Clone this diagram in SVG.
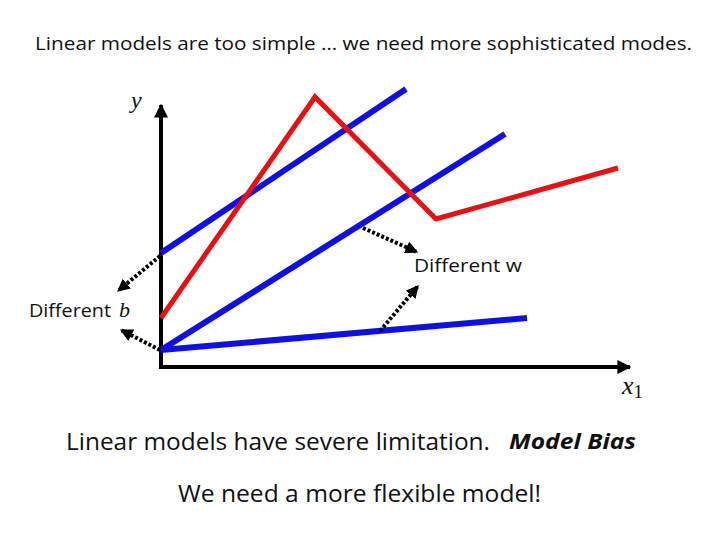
<svg xmlns="http://www.w3.org/2000/svg" width="720" height="540" viewBox="0 0 720 540">
<style>
.t{font-family:"Open Sans","Liberation Sans",sans-serif;fill:#111}
.m{font-family:"Liberation Serif",serif;font-style:italic;fill:#111}
.blue{stroke:#1010e0;stroke-width:6;fill:none;stroke-linecap:butt}
.red{stroke:#e81010;stroke-width:5;fill:none;stroke-linejoin:miter}
.axis{stroke:#000;stroke-width:4;fill:none}
.dot{stroke:#000;stroke-width:4;stroke-dasharray:3 2;fill:none}
</style>
<defs>
<marker id="ah" viewBox="0 0 10 10" refX="9" refY="5" markerWidth="3.2" markerHeight="3.2" orient="auto" markerUnits="strokeWidth"><path d="M0,0 L10,5 L0,10 Z" fill="#000"/></marker>
<marker id="ax" viewBox="0 0 10 10" refX="9" refY="5" markerWidth="3.5" markerHeight="3.5" orient="auto" markerUnits="strokeWidth"><path d="M0,0 L10,5 L0,10 Z" fill="#000"/></marker>
</defs>
<rect width="720" height="540" fill="#fff"/>
<text class="t" x="35" y="50" font-size="18.5" textLength="657" lengthAdjust="spacingAndGlyphs">Linear models are too simple … we need more sophisticated modes.</text>
<g id="axes">
<path class="axis" d="M161,367 V105" marker-end="url(#ax)"/>
<path class="axis" d="M159,367 H630" marker-end="url(#ax)"/>
<text class="m" x="131" y="108" font-size="24">y</text>
<text class="m" x="622" y="394" font-size="26">x<tspan font-size="19" font-style="normal" dy="4">1</tspan></text>
</g>
<g id="lines">
<path class="blue" d="M161,253 L406,89"/>
<path class="blue" d="M161,350 L505,134"/>
<path class="blue" d="M161,350 L527,318"/>
<path class="red" d="M161,318 L315,97 L436,219 L618,168"/>
</g>
<g id="connectors">
<path class="dot" d="M160,256 L118,291" marker-end="url(#ah)"/>
<path class="dot" d="M160,350 L121,330" marker-end="url(#ah)"/>
<path class="dot" d="M363,228 L417,252" marker-end="url(#ah)"/>
<path class="dot" d="M380,331 L418,286" marker-end="url(#ah)"/>
</g>
<g id="label-w"><text class="t" x="414" y="272" font-size="18.5" textLength="108" lengthAdjust="spacingAndGlyphs">Different w</text></g>
<g id="label-b"><text class="t" x="29" y="317" font-size="18.5" textLength="82" lengthAdjust="spacingAndGlyphs">Different</text><text class="m" x="119" y="317" font-size="22">b</text></g>
<text class="t" x="66" y="450" font-size="23" textLength="424" lengthAdjust="spacingAndGlyphs">Linear models have severe limitation.</text>
<text class="t" x="509" y="449" font-size="22" font-weight="bold" font-style="italic" textLength="127" lengthAdjust="spacingAndGlyphs">Model Bias</text>
<text class="t" x="178" y="502" font-size="23" textLength="363" lengthAdjust="spacingAndGlyphs">We need a more flexible model!</text>
</svg>
